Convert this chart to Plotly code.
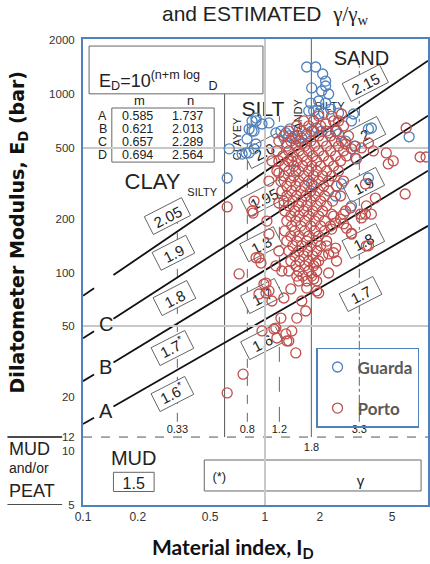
import numpy as np
import plotly.graph_objects as go

# ---------------- chart parameters (from the printed table) ----------------
line_names = ["A", "B", "C", "D"]
line_m = [0.585, 0.621, 0.657, 0.694]
line_n = [1.737, 2.013, 2.289, 2.564]

x_ticks = [0.1, 0.2, 0.5, 1, 2, 5]
y_ticks = [5, 10, 12, 20, 50, 100, 200, 500, 1000, 2000]

# soil-type boundaries (I_D) and their labels
bound_id = [0.33, 0.6, 0.8, 1.2, 1.8, 3.3]
bound_lbl = ["0.33", "", "0.8", "1.2", "1.8", "3.3"]

# gamma/gamma_w labels
gamma_text = ["2.05", "1.9", "1.8", "1.7<sup>*</sup>", "1.6<sup>*</sup>",
              "2.0", "1.95", "1.8", "1.7", "1.6",
              "2.15", "2", "1.9", "1.8", "1.7"]
gamma_id = [0.291, 0.314, 0.318, 0.310, 0.310,
            0.987, 0.987, 0.951, 0.963, 0.963,
            3.56, 3.52, 3.47, 3.47, 3.35]
gamma_ed = [207, 129, 72.0, 37.8, 20.9,
            479, 261, 144, 73.9, 40.8,
            1150, 596, 309, 150, 75.8]

# ---------------- measured data ----------------
guarda_id = [1.696, 1.900, 2.075, 2.154, 2.154, 1.806, 2.049, 2.238, 1.784, 1.973,
             2.154, 1.740, 1.852, 1.973, 2.101, 2.295, 2.537, 3.064, 2.988, 3.844,
             3.702, 6.200, 0.893, 0.818, 0.871, 0.963, 1.052, 0.797, 0.893, 0.749,
             0.818, 0.871, 1.223, 1.303, 1.352, 1.404, 1.477, 1.593, 1.696, 1.806,
             1.924, 2.049, 2.238, 2.443, 2.537, 2.771, 3.142, 3.142, 3.702, 1.806,
             0.636, 0.620, 0.787, 0.849, 0.849, 0.893, 2.988, 1.148, 1.370, 1.319,
             2.635, 2.443, 1.477]
guarda_ed = [1413, 1413, 1291, 1179, 1106, 1079, 1037, 998, 888, 912,
             888, 802, 802, 771, 780, 822, 780, 771, 705, 644,
             636, 575, 705, 636, 619, 678, 687, 559, 524, 460,
             467, 492, 619, 604, 581, 566, 559, 566, 596, 619,
             644, 619, 604, 619, 596, 544, 510, 437, 338, 313,
             492, 338, 467, 619, 705, 732, 236, 604, 636, 530,
             313, 268, 370]

porto_id = [0.620, 0.860, 0.721, 0.758, 0.620, 0.893, 0.951, 0.963, 1.092, 1.148,
            1.223, 1.270, 1.303, 1.352, 1.477, 1.404, 1.496, 1.593, 1.675, 1.696,
            1.852, 1.924, 2.238, 1.900, 1.387, 1.352, 1.052, 1.013, 1.192, 1.148,
            1.238, 1.052, 0.927, 0.987, 2.238, 2.443, 2.474, 2.295, 2.702, 2.988,
            3.346, 3.844, 3.610, 2.771, 2.324, 1.120, 1.163, 1.319, 1.973, 5.970,
            7.120, 7.680, 4.642, 4.760, 5.070, 5.895, 3.702, 3.941, 3.389, 2.988,
            3.182, 2.635, 2.635, 2.771, 2.806, 3.564, 4.043, 3.610, 3.564, 2.951,
            2.702, 2.602, 2.443, 2.806, 2.988, 3.389, 3.702, 2.324, 2.182, 2.383,
            2.383, 2.154, 0.871, 0.849, 1.092, 1.052, 1.192, 1.025, 1.192, 1.593,
            1.404, 0.927, 1.013]
porto_ed = [233, 215, 98.2, 27.0, 21.2, 121, 113, 47.1, 69.3, 48.9,
            55.6, 72.0, 45.3, 41.4, 35.5, 47.1, 55.6, 69.3, 60.9, 81.8,
            92.0, 78.9, 99.4, 113, 80.9, 102, 78.9, 87.3, 132, 109,
            102, 164, 121, 86.2, 127, 137, 116, 182, 187, 166,
            212, 212, 141, 221, 212, 48.3, 43.0, 41.4, 76.8, 644,
            443, 443, 467, 405, 421, 275, 530, 479, 498, 492,
            432, 771, 544, 524, 449, 313, 261, 236, 212, 230,
            212, 199, 189, 177, 164, 202, 141, 175, 141, 129,
            705, 678, 251, 221, 421, 325, 360, 194, 245, 524,
            421, 75.8, 76.8]

# dense Porto cluster, read row by row (E_D of row, I_D values in row)
porto_core_ed = [751, 705, 661, 619, 581, 544, 510, 479, 449, 421, 394, 370, 347,
                 325, 305, 286, 268, 251, 236, 221, 207, 194, 182, 171, 160, 150,
                 141, 132, 124, 116, 109, 102, 95.5, 89.6]
porto_core_id = [
    [1.973, 2.324],
    [1.634, 1.852, 2.537],
    [1.496, 1.740, 2.023, 2.702],
    [1.352, 1.593, 1.852, 2.182, 2.474],
    [1.270, 1.458, 1.696, 1.973, 2.295, 2.877],
    [1.192, 1.387, 1.534, 1.784, 2.075, 2.413],
    [1.319, 1.477, 1.654, 1.876, 2.182, 2.537, 3.103],
    [1.163, 1.352, 1.534, 1.740, 1.973, 2.295, 2.702],
    [1.254, 1.422, 1.613, 1.829, 2.101, 2.443],
    [1.192, 1.352, 1.496, 1.696, 1.924, 2.238, 2.602],
    [1.286, 1.440, 1.613, 1.806, 2.023, 2.383],
    [1.163, 1.352, 1.534, 1.740, 1.924, 2.182, 2.537],
    [1.270, 1.440, 1.634, 1.852, 2.075, 2.324],
    [1.223, 1.387, 1.534, 1.740, 1.973, 2.238, 2.702],
    [1.319, 1.477, 1.654, 1.852, 2.101, 2.474],
    [1.238, 1.404, 1.573, 1.784, 1.973, 2.238],
    [1.319, 1.496, 1.675, 1.876, 2.128, 2.602],
    [1.270, 1.422, 1.593, 1.784, 2.023, 2.353],
    [1.352, 1.534, 1.696, 1.924, 2.182],
    [1.286, 1.458, 1.634, 1.829, 2.075],
    [1.387, 1.534, 1.740, 1.973, 2.383],
    [1.319, 1.477, 1.654, 1.876, 2.128],
    [1.404, 1.573, 1.784, 2.023],
    [1.286, 1.458, 1.654, 1.876, 2.128],
    [1.387, 1.534, 1.740, 1.973],
    [1.319, 1.496, 1.696, 1.924, 2.182],
    [1.422, 1.593, 1.784, 2.023],
    [1.352, 1.534, 1.718, 1.924],
    [1.458, 1.634, 1.829, 2.075],
    [1.387, 1.553, 1.740, 1.973],
    [1.477, 1.654, 1.852],
    [1.534, 1.740, 1.924],
    [1.496, 1.613, 1.806],
    [1.534, 1.696, 1.924],
]

all_porto_id = list(porto_id)
all_porto_ed = list(porto_ed)
for e, row in zip(porto_core_ed, porto_core_id):
    all_porto_id += row
    all_porto_ed += [e] * len(row)

# ---------------- styling / layout geometry ----------------
BLUE = "#4F81BD"
RED = "#C0504D"
INK = "#222222"
SANS = "Liberation Sans"
X_MIN, X_MAX = 0.1, 7.87
Y_MIN, Y_MAX = 5, 2027
W, H = 430, 564
ML, MR, MT, MB = 83, 0, 39, 59
KX = (W - ML - MR) / (np.log10(X_MAX) - np.log10(X_MIN))   # px per decade
KY = (H - MT - MB) / (np.log10(Y_MAX) - np.log10(Y_MIN))

fig = go.Figure()
fig.add_trace(go.Scatter(x=guarda_id, y=guarda_ed, mode="markers", name="Guarda",
                         legendgroup="g", marker=dict(symbol="circle-open", size=10, color=BLUE,
                                                      line=dict(width=1.3))))
fig.add_trace(go.Scatter(x=all_porto_id, y=all_porto_ed, mode="markers", name="Porto",
                         legendgroup="p", marker=dict(symbol="circle-open", size=10, color=RED,
                                                      line=dict(width=1.3))))

shapes = []


def seg(x0, y0, x1, y1, color="#555", width=1, dash="solid"):
    shapes.append(dict(type="line", xref="x", yref="y", x0=x0, y0=y0, x1=x1, y1=y1,
                       line=dict(color=color, width=width, dash=dash), layer="below"))


def txt(I, E, text, size, angle=0, color=INK):
    k = 1.0005
    shapes.append(dict(type="rect", xref="x", yref="y",
                       x0=I / k, x1=I * k, y0=E / k, y1=E * k,
                       line=dict(width=0, color="rgba(0,0,0,0)"), layer="below",
                       label=dict(text=text, textangle=angle, textposition="middle center",
                                  padding=0,
                                  font=dict(family=SANS, size=size, color=color))))


def off(I, E, dx, dy):
    """shift a data point by (dx, dy) screen pixels (dy upward) on the log-log axes"""
    return I * 10 ** (dx / KX), E * 10 ** (dy / KY)


def rot_box(I, E, a, b, ang):
    t = np.radians(ang)
    ux, uy = np.cos(t), np.sin(t)
    vx, vy = -np.sin(t), np.cos(t)
    pts = [(a * ux + b * vx, a * uy + b * vy), (-a * ux + b * vx, -a * uy + b * vy),
           (-a * ux - b * vx, -a * uy - b * vy), (a * ux - b * vx, a * uy - b * vy)]
    dpts = [off(I, E, px, py) for px, py in pts]
    path = "M " + " L ".join(f"{px:.5f} {py:.4f}" for px, py in dpts) + " Z"
    shapes.append(dict(type="path", xref="x", yref="y", path=path, fillcolor="white",
                       line=dict(color="#666", width=1), layer="below"))


# vertical soil boundaries
seg(0.33, 14.6, 0.33, 236, "#666", 1, "dash")
seg(0.6, 12, 0.6, 1000, "#555", 1)
seg(0.8, 14.6, 0.8, 750, "#666", 1, "dash")
seg(1.2, 14.6, 1.2, 750, "#666", 1, "longdash")
seg(1.8, 12, 1.8, Y_MAX, "#777", 1.2)
seg(3.3, 14.6, 3.3, 1440, "#666", 1, "dashdot")
# E_D = 12 mud limit
seg(X_MIN, 12, X_MAX, 12, "#555", 1, "dash")

# A-D lines, with a gap near the left end for the letter
gap0, gap1 = 0.115, 0.147
for m, n in zip(line_m, line_n):
    f = lambda I: 10 ** (n + m * np.log10(I))
    seg(X_MIN, f(X_MIN), gap0, f(gap0), "#111", 1.8)
    seg(gap1, f(gap1), X_MAX, f(X_MAX), "#111", 1.8)

# formula box and table box
shapes.append(dict(type="rect", xref="x", yref="y", x0=0.108, x1=0.975, y0=1000, y1=1851,
                   line=dict(color="#666", width=1), layer="below"))
shapes.append(dict(type="rect", xref="x", yref="y", x0=0.144, x1=0.526, y0=415, y1=833,
                   line=dict(color="#666", width=1), layer="below"))
# mud box and (*) box
shapes.append(dict(type="rect", xref="x", yref="y", x0=0.147, x1=0.246, y0=5.95, y1=7.62,
                   line=dict(color="#666", width=1), fillcolor="white", layer="below"))
shapes.append(dict(type="rect", xref="x", yref="y", x0=0.464, x1=7.21, y0=5.99, y1=8.93,
                   line=dict(color="#666", width=1), layer="below"))

# gamma boxes (rotated like the A-D lines)
for t, I, E in zip(gamma_text, gamma_id, gamma_ed):
    a = 21 if len(t) == 4 and "<" not in t else 19
    rot_box(I, E, a, 10, 27)
for t, I, E in zip(gamma_text, gamma_id, gamma_ed):
    txt(I, E, t, 15, -27)

# soil labels
txt(0.241, 333, "CLAY", 22)
txt(0.452, 286, "SILTY", 11)
txt(0.975, 854, "SILT", 21)
txt(0.694, 559, "CLAYEY", 11, -90)
txt(1.496, 732, "SANDY", 11, -90)
txt(2.266, 866, "SILTY", 11)
txt(3.39, 1628, "SAND", 20)
txt(0.190, 9.40, "MUD", 20)
txt(0.190, 6.73, "1.5", 16)
txt(0.561, 7.27, "(*)", 13)
txt(3.35, 6.99, "γ", 15)
for I, lab in zip(bound_id, bound_lbl):
    if lab and lab != "1.8":
        txt(I, 13.5, lab, 11)
txt(1.8, 10.7, "1.8", 11)

# MUD and/or PEAT lines outside the plot
for yv in (12, 5):
    shapes.append(dict(type="line", xref="paper", yref="y", x0=-0.219, x1=-0.0605, y0=yv, y1=yv,
                       line=dict(color="#111", width=1.5)))

ann = []
# letters A, B, C on their lines
for name, m, n in zip(line_names[:3], line_m[:3], line_n[:3]):
    Ic = 0.1336
    ann.append(dict(x=np.log10(Ic), y=n + m * np.log10(Ic), xref="x", yref="y", text=name,
                    xanchor="center", yanchor="middle",
                    showarrow=False, font=dict(family=SANS, size=20, color=INK)))
# formula
ann.append(dict(x=np.log10(0.119), y=np.log10(1190), xref="x", yref="y", xanchor="left",
                yanchor="middle",
                text="E<sub>D</sub>=10<sup>(n+m log </sup> <sub>D</sub>", showarrow=False,
                font=dict(family=SANS, size=18, color=INK)))
# table
row_e = [751, 636, 537, 455]
for xv, t in ((0.205, "m"), (0.389, "n")):
    ann.append(dict(x=np.log10(xv), y=np.log10(912), xref="x", yref="y", text=t,
                    xanchor="center", yanchor="middle",
                    showarrow=False, font=dict(family=SANS, size=13, color=INK)))
for name, m, n, e in zip(line_names, line_m, line_n, row_e):
    for xv, t in ((0.1286, name), (0.2, f"{m:.3f}"), (0.375, f"{n:.3f}")):
        ann.append(dict(x=np.log10(xv), y=np.log10(e), xref="x", yref="y", text=t,
                        xanchor="center", yanchor="middle",
                        showarrow=False, font=dict(family=SANS, size=12.5, color=INK)))
# MUD and/or PEAT
for yp, t, s in ((0.120, "MUD", 18), (0.079, "and/or", 14), (0.030, "PEAT", 18)):
    ann.append(dict(x=-0.219, y=yp, xref="paper", yref="paper", xanchor="left", yanchor="middle",
                    text=t, showarrow=False, font=dict(family=SANS, size=s, color=INK)))
# title
ann.append(dict(x=0.530, y=1.0515, xref="paper", yref="paper", showarrow=False,
                xanchor="center", yanchor="middle",
                text="and ESTIMATED  <span style='font-family:Liberation Serif'>γ/γ<sub>w</sub></span>",
                font=dict(family=SANS, size=21, color=INK)))
# axis titles
ann.append(dict(x=-0.187, y=0.586, xref="paper", yref="paper", showarrow=False, textangle=-90,
                xanchor="center", yanchor="middle",
                text="<b>Dilatometer Modulus, E<sub>D</sub> (bar)</b>",
                font=dict(family="DejaVu Sans", size=19, color="#111")))
ann.append(dict(x=0.435, y=-0.0923, xref="paper", yref="paper", showarrow=False,
                xanchor="center", yanchor="middle",
                text="<b>Material index, I<sub>D</sub></b>",
                font=dict(family="Lato", size=21, color="#111")))

fig.update_layout(
    width=W, height=H, margin=dict(l=ML, r=MR, t=MT, b=MB),
    paper_bgcolor="white", plot_bgcolor="white",
    shapes=shapes, annotations=ann,
    legend=dict(x=0.974, xanchor="right", y=0.337, yanchor="top", bordercolor=BLUE,
                borderwidth=1.5, bgcolor="rgba(0,0,0,0)", traceorder="grouped",
                tracegroupgap=16, itemwidth=30,
                font=dict(family="Lato", size=17, color="#595959", weight="bold")),
    xaxis=dict(type="log", range=[np.log10(X_MIN), np.log10(X_MAX)], tickmode="array",
               tickvals=x_ticks, ticktext=[str(v) for v in x_ticks], showgrid=False,
               showline=True, mirror=True, linecolor=BLUE, linewidth=2, zeroline=False,
               ticks="", tickfont=dict(family=SANS, size=12, color="#333"),
               minor=dict(tickmode="array", tickvals=[1], showgrid=True, gridcolor="#c8c8c8",
                          gridwidth=1.5, ticks="")),
    yaxis=dict(type="log", range=[np.log10(Y_MIN), np.log10(Y_MAX)], tickmode="array",
               tickvals=y_ticks, ticktext=[str(v) for v in y_ticks], showgrid=False,
               showline=True, mirror=True, linecolor=BLUE, linewidth=2, zeroline=False,
               ticks="", ticklabelstandoff=4, tickfont=dict(family=SANS, size=11.5, color="#333"),
               minor=dict(tickmode="array", tickvals=[50, 500], showgrid=True, gridcolor="#c8c8c8",
                          gridwidth=1.5, ticks="")),
)

fig.write_html("out.html")
